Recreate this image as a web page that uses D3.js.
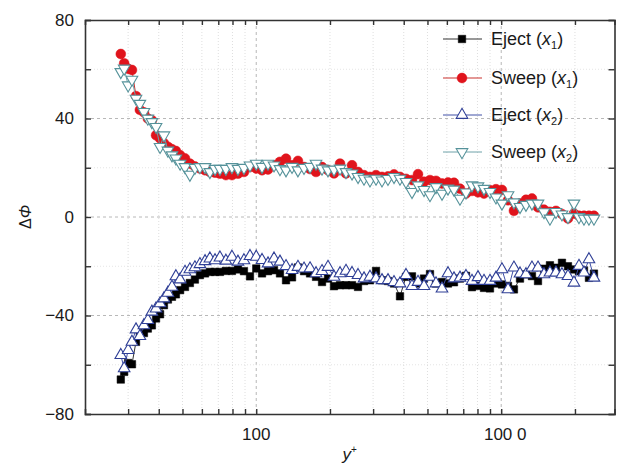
<!DOCTYPE html>
<html>
<head>
<meta charset="utf-8">
<script src="https://cdn.jsdelivr.net/npm/d3@7/dist/d3.min.js"></script>
<style>
  body { margin: 0; background: #fff; }
  svg text { font-family: "Liberation Sans", Arial, sans-serif; fill: #1a1a1a; }
</style>
</head>
<body>
<div id="chart"></div>
<script>
// y+ positions shared by all four series
const yPlus = [28, 28.9, 30, 31.1, 32.3, 33.5, 34.8, 36.1, 37.5, 39, 40.5, 42, 43.6, 45.3, 47, 48.9,
  51.2, 53.6, 56.2, 58.9, 61.8, 64.7, 67.9, 71.1, 75.2, 79.6, 84.2, 89.1, 94.3, 100, 105.6, 111.7,
  118.2, 125, 132.3, 140, 148, 156.7, 165.8, 175.4, 185.6, 196.3, 207.7, 219.8, 232.5, 246, 260.3,
  275.4, 291.3, 308.3, 326.1, 345, 365, 386.2, 408.6, 432.3, 457.4, 483.9, 512, 541.7, 573.1, 606.4,
  641.5, 678.7, 718.1, 759.8, 803.8, 850.5, 899.8, 952, 1007, 1066, 1127, 1193, 1262, 1335, 1413,
  1495, 1581, 1673, 1770, 1873, 1981, 2077, 2177, 2281, 2391];

const ejectX1 = [-66, -62.9, -59.3, -59.8, -50.7, -48, -47.1, -45.3, -44, -41.2, -39.5, -35.8, -33.5,
  -32.4, -31.4, -29.7, -28.4, -26.8, -25.4, -23.6, -22.9, -22.3, -22.3, -22.3, -21.9, -21.9, -21.3,
  -22, -24.1, -20.9, -22.9, -22, -21.6, -22.9, -25.7, -24.5, -20.5, -22, -22.9, -24.3, -26.4, -25,
  -28.1, -27.7, -27.7, -27.7, -28.4, -26, -25.7, -21.9, -25.7, -26, -27, -32.2, -24.3, -24.1, -27,
  -25, -23.2, -27, -26.4, -27, -26.5, -25, -23.9, -28.5, -28, -28.8, -29, -27, -27.4, -28, -29.4,
  -25, -23.3, -24, -26, -21, -19.6, -20.6, -18.6, -20, -21.3, -22, -21.7, -24.7, -23];

const sweepX1 = [66.2, 62.4, 60.2, 59.7, 49.1, 43.5, 42.5, 40, 39.3, 33.2, 31.9, 30, 28.5, 27.5, 26.8,
  25.1, 23.8, 21.7, 20.5, 19.7, 19, 18.3, 18, 17.6, 17, 17, 17.6, 18.3, 20.3, 19.7, 19, 19.3, 21,
  22.4, 23.7, 21, 22.8, 20.3, 19.5, 18.3, 20.3, 19, 17.7, 21.7, 17.7, 21, 18.3, 17, 16.3, 17, 16.3,
  16.5, 17.3, 16.3, 15.5, 15, 17.4, 14.3, 15, 14.7, 13.6, 14, 13.9, 11.5, 9.5, 10.6, 10, 9.5, 10.9,
  11.3, 11, 6.8, 2.5, 5.5, 7, 7.5, 3.9, 3, 2.1, 2.5, 1.2, -0.6, 1.4, 0.5, 0.5, 0.5, 0.5];

const ejectX2 = [-56.1, -61.5, -54.1, -50.7, -45.7, -48.4, -44, -41.9, -38.5, -37.2, -35.1, -33.1,
  -30.8, -28.4, -24.1, -25.4, -22.3, -21.3, -20.5, -19.2, -18, -16.9, -17.6, -16.5, -17.8, -16.2,
  -18.2, -17.6, -15.9, -16.2, -17.5, -18.9, -16.9, -18.2, -20, -21.6, -20.3, -21, -20.9, -22.9, -22,
  -20.3, -24.3, -22.9, -21.9, -22.8, -23.6, -25, -24.3, -25, -25.7, -25.7, -26.5, -27, -23.6, -28.1,
  -26.4, -28.1, -24.3, -27, -29.1, -22.9, -25, -24.7, -24, -26, -24.5, -26, -26, -24.7, -21.3, -29.4,
  -20.6, -23, -23.3, -20.6, -20.6, -23.3, -22.6, -22.6, -23.3, -24, -26.7, -19.9, -22.6, -17.2, -24.7];

const sweepX2 = [58.9, 60.3, 53.5, 55.8, 48.1, 46, 42.7, 40, 38.6, 36.6, 28.5, 33.2, 27, 25.1, 23.8,
  21.7, 20.3, 17.2, 20, 20.3, 20.3, 18.3, 19.6, 19.6, 19.6, 20.3, 19.6, 20, 21, 21.7, 20.4, 21.7, 21,
  19.5, 19, 20.4, 19, 20, 20.4, 21.7, 19.7, 19, 19.3, 19.7, 18.3, 17.7, 16.3, 15.6, 14.9, 15.6, 14.9,
  15.5, 16.3, 15.6, 14.3, 10.2, 12.9, 11, 8.9, 12.2, 9.5, 11.6, 11.2, 7.5, 10, 12.9, 12.5, 11.5, 10.2,
  8, 5.5, 8.9, 6, 4.1, 5, 5.5, 5.5, 2, -0.6, 2.1, 1.1, 0, 5.5, 0, -0.6, -0.6, -0.6];

const xLabelTicks = [100, 1000];
const xLabelText = ['100', '100 0'];
const xMinorTicks = [30, 40, 50, 60, 70, 80, 90, 200, 300, 400, 500, 600, 700, 800, 900, 2000];
const yMajorTicks = [-80, -40, 0, 40, 80];
const yMinorTicks = [-60, -20, 20, 60];

const width = 620, height = 465;
const margin = { left: 85, right: 5.5, top: 20, bottom: 51 };

const svg = d3.select('#chart').append('svg')
  .attr('width', width)
  .attr('height', height);

const x = d3.scaleLog().domain([20, 2900]).range([margin.left, width - margin.right]);
const y = d3.scaleLinear().domain([-80, 80]).range([height - margin.bottom, margin.top]);

const x0 = x.range()[0], x1 = x.range()[1];
const y0 = y.range()[0], y1 = y.range()[1];

// grid
const grid = svg.append('g');
grid.selectAll('.vminor').data(xMinorTicks).enter().append('line')
  .attr('x1', d => x(d)).attr('x2', d => x(d)).attr('y1', y1).attr('y2', y0)
  .attr('stroke', '#d6d6d6').attr('stroke-width', 0.8).attr('stroke-dasharray', '1,2');
grid.selectAll('.vmajor').data(xLabelTicks).enter().append('line')
  .attr('x1', d => x(d)).attr('x2', d => x(d)).attr('y1', y1).attr('y2', y0)
  .attr('stroke', '#b8b8b8').attr('stroke-width', 1).attr('stroke-dasharray', '3,3');
grid.selectAll('.hminor').data(yMinorTicks).enter().append('line')
  .attr('x1', x0).attr('x2', x1).attr('y1', d => y(d)).attr('y2', d => y(d))
  .attr('stroke', '#dedede').attr('stroke-width', 0.8).attr('stroke-dasharray', '1,2');
grid.selectAll('.hmajor').data([-40, 0, 40]).enter().append('line')
  .attr('x1', x0).attr('x2', x1).attr('y1', d => y(d)).attr('y2', d => y(d))
  .attr('stroke', '#b8b8b8').attr('stroke-width', 1).attr('stroke-dasharray', '3,3');

// series
const series = [
  { name: 'Eject', sub: '1', values: ejectX1, line: '#333', stroke: '#000', fill: '#000', sym: d3.symbolSquare, size: 56, rot: 0 },
  { name: 'Sweep', sub: '1', values: sweepX1, line: '#c9302c', stroke: '#e0141c', fill: '#e0141c', sym: d3.symbolCircle, size: 76, rot: 0 },
  { name: 'Eject', sub: '2', values: ejectX2, line: '#4050a6', stroke: '#2f3f96', fill: '#fff', sym: d3.symbolTriangle, size: 58, rot: 0 },
  { name: 'Sweep', sub: '2', values: sweepX2, line: '#6ea2a9', stroke: '#55929a', fill: '#fff', sym: d3.symbolTriangle, size: 58, rot: 180 }
];

const line = d3.line().x(d => x(d[0])).y(d => y(d[1]));

series.forEach(s => {
  const pts = yPlus.map((v, i) => [v, s.values[i]]);
  svg.append('path')
    .attr('d', line(pts))
    .attr('fill', 'none')
    .attr('stroke', s.line)
    .attr('stroke-width', 1);
  const symbol = d3.symbol().type(s.sym).size(s.size);
  svg.append('g').selectAll('path').data(pts).enter().append('path')
    .attr('d', symbol)
    .attr('transform', d => `translate(${x(d[0])},${y(d[1])}) rotate(${s.rot})`)
    .attr('fill', s.fill)
    .attr('stroke', s.stroke)
    .attr('stroke-width', s.fill === '#fff' ? 1.1 : 0.5);
});

// axes (inward ticks on all four sides)
const axisColor = '#333';
const axBottom = svg.append('g').attr('transform', `translate(0,${y0})`)
  .call(d3.axisBottom(x).tickValues(xLabelTicks.concat(xMinorTicks)).tickSize(-5).tickFormat(''));
const axTop = svg.append('g').attr('transform', `translate(0,${y1})`)
  .call(d3.axisTop(x).tickValues(xLabelTicks.concat(xMinorTicks)).tickSize(-5).tickFormat(''));
const axLeft = svg.append('g').attr('transform', `translate(${x0},0)`)
  .call(d3.axisLeft(y).tickValues(yMajorTicks.concat(yMinorTicks)).tickSize(-6).tickFormat(''));
const axRight = svg.append('g').attr('transform', `translate(${x1},0)`)
  .call(d3.axisRight(y).tickValues(yMajorTicks.concat(yMinorTicks)).tickSize(-6).tickFormat(''));
[axBottom, axTop, axLeft, axRight].forEach(a => {
  a.select('.domain').attr('stroke', axisColor).attr('stroke-width', 1.6);
  a.selectAll('.tick line').attr('stroke', axisColor).attr('stroke-width', 1.4);
});

// tick labels
svg.selectAll('.xlab').data(xLabelTicks).enter().append('text')
  .attr('x', (d, i) => x(d) + (i === 1 ? 4 : 0))
  .attr('y', y0 + 26)
  .attr('text-anchor', 'middle')
  .style('font-size', '17px')
  .text((d, i) => xLabelText[i]);

svg.selectAll('.ylab').data(yMajorTicks).enter().append('text')
  .attr('x', x0 - 11)
  .attr('y', d => y(d))
  .attr('dy', '0.35em')
  .attr('text-anchor', 'end')
  .style('font-size', '17px')
  .text(d => d < 0 ? '\u2212' + Math.abs(d) : d);

// axis titles
const xt = svg.append('text')
  .attr('x', (x0 + x1) / 2)
  .attr('y', 460)
  .attr('text-anchor', 'middle')
  .style('font-size', '17px');
xt.append('tspan').style('font-style', 'italic').text('y');
xt.append('tspan').attr('dy', -7).style('font-size', '10px').text('+');

const yt = svg.append('text')
  .attr('transform', `translate(31,${y(0)}) rotate(-90)`)
  .attr('text-anchor', 'middle')
  .style('font-size', '16px');
yt.append('tspan').text('\u0394');
yt.append('tspan').style('font-style', 'italic').text('\u03A6');

// legend
const legendY = [39, 78, 115, 152];
const legend = svg.append('g');
series.forEach((s, i) => {
  const g = legend.append('g').attr('transform', `translate(0,${legendY[i]})`);
  g.append('line').attr('x1', 443).attr('x2', 482).attr('y1', 0).attr('y2', 0)
    .attr('stroke', s.line).attr('stroke-width', 1);
  g.append('path')
    .attr('d', d3.symbol().type(s.sym).size(s.size)())
    .attr('transform', `translate(462,0) rotate(${s.rot})`)
    .attr('fill', s.fill).attr('stroke', s.stroke)
    .attr('stroke-width', s.fill === '#fff' ? 1.1 : 0.5);
  const t = g.append('text').attr('x', 491).attr('y', 6).style('font-size', '18px');
  t.append('tspan').text(s.name + ' (');
  t.append('tspan').style('font-style', 'italic').text('x');
  t.append('tspan').attr('dy', 4).style('font-size', '11px').text(s.sub);
  t.append('tspan').attr('dy', -4).text(')');
});
</script>
</body>
</html>
